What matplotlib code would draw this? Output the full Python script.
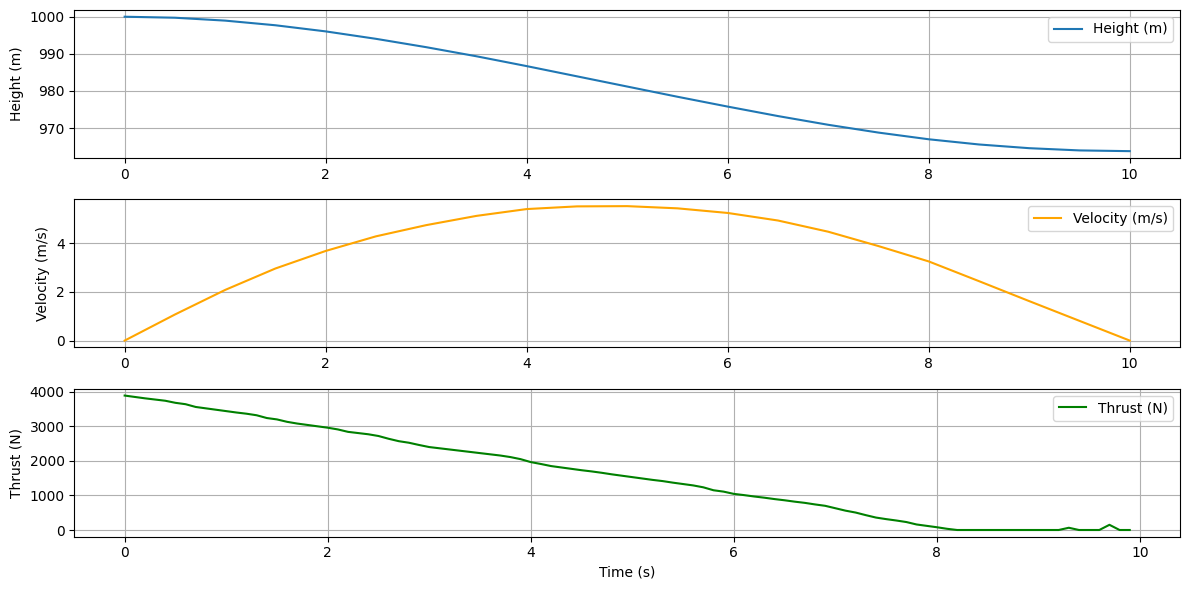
import numpy as np
import matplotlib
matplotlib.use('Agg')
from matplotlib import pyplot as plt

# height and velocity, read every 0.5 s
t_hv = [0.0, 0.5, 1.0, 1.5, 2.0, 2.5, 3.0, 3.5, 4.0, 4.5, 5.0,
        5.5, 6.0, 6.5, 7.0, 7.5, 8.0, 8.5, 9.0, 9.5, 10.0]
height = [1000.0, 999.73, 998.95, 997.7, 996.05, 994.05, 991.8, 989.35, 986.7, 983.95, 981.2,
          978.45, 975.8, 973.25, 970.9, 968.8, 967.0, 965.6, 964.6, 964.0, 963.8]
velocity = [0.0, 1.07, 2.08, 2.96, 3.68, 4.28, 4.74, 5.12, 5.4, 5.51, 5.52,
            5.43, 5.24, 4.93, 4.47, 3.88, 3.25, 2.44, 1.62, 0.81, 0.0]

# thrust, read every 0.1 s
t_thrust = np.arange(100) / 10.0
thrust = [3890, 3850, 3810, 3775, 3740, 3680, 3640, 3560, 3520, 3480,
          3440, 3400, 3365, 3320, 3240, 3200, 3130, 3080, 3040, 3000,
          2960, 2910, 2840, 2805, 2770, 2720, 2640, 2570, 2525, 2460,
          2400, 2365, 2330, 2295, 2260, 2225, 2190, 2155, 2110, 2050,
          1965, 1910, 1850, 1810, 1770, 1730, 1695, 1655, 1610, 1570,
          1530, 1490, 1450, 1415, 1370, 1330, 1290, 1235, 1150, 1110,
          1045, 1010, 970, 935, 895, 860, 820, 785, 740, 700,
          630, 560, 505, 430, 360, 315, 275, 230, 160, 120,
          80, 35, 0, 0, 0, 0, 0, 0, 0, 0,
          0, 0, 0, 65, 0, 0, 0, 150, 0, 0]

plt.figure(figsize=(12, 6), dpi=100)

plt.subplot(3, 1, 1)
plt.plot(t_hv, height, label='Height (m)')
plt.ylabel('Height (m)')
plt.grid(True)
plt.legend(loc='upper right')

plt.subplot(3, 1, 2)
plt.plot(t_hv, velocity, color='orange', label='Velocity (m/s)')
plt.ylabel('Velocity (m/s)')
plt.grid(True)
plt.legend(loc='upper right')

plt.subplot(3, 1, 3)
plt.plot(t_thrust, thrust, color='green', label='Thrust (N)')
plt.xlabel('Time (s)')
plt.ylabel('Thrust (N)')
plt.grid(True)
plt.legend(loc='upper right')

plt.tight_layout()
plt.savefig('out.png', bbox_inches='tight')
